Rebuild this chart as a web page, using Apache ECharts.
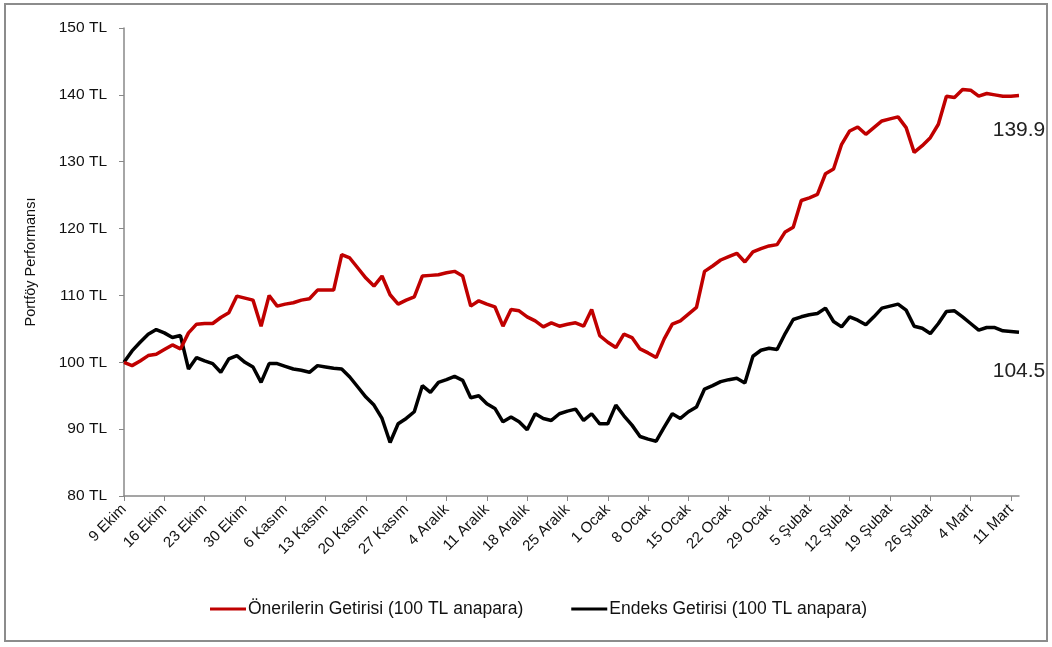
<!DOCTYPE html>
<html>
<head>
<meta charset="utf-8">
<script src="https://cdn.jsdelivr.net/npm/echarts@6/dist/echarts.min.js"></script>
<style>
html,body{margin:0;padding:0;background:#fff;}
#c{width:1052px;height:647px;}
</style>
</head>
<body>
<div id="c"></div>
<script>
// Month names (Turkish) used for daily category labels
const monthNames = ['Ocak','Şubat','Mart','Nisan','Mayıs','Haziran','Temmuz','Ağustos','Eylül','Ekim','Kasım','Aralık'];
const startDate = [2007, 9, 9]; // 9 Ekim (year, month index, day)
const dayCount = 112;

const seriesNames = ['Önerilerin Getirisi (100 TL anapara)', 'Endeks Getirisi (100 TL anapara)'];

const oneriler = [
100.0,99.5,100.2,101.0,101.2,101.9,102.6,102.0,104.4,105.7,
105.8,105.8,106.7,107.4,109.9,109.6,109.3,105.4,110.0,108.4,
108.7,108.9,109.3,109.5,110.8,110.8,110.8,116.1,115.6,114.1,
112.6,111.4,112.9,110.1,108.7,109.3,109.8,112.9,113.0,113.1,
113.4,113.6,112.9,108.4,109.2,108.7,108.3,105.4,107.9,107.7,
106.8,106.2,105.3,105.9,105.4,105.7,105.9,105.4,107.9,104.0,
103.0,102.2,104.2,103.7,102.0,101.4,100.7,103.5,105.7,106.2,
107.2,108.2,113.6,114.4,115.3,115.8,116.3,115.0,116.5,117.0,
117.4,117.6,119.5,120.2,124.2,124.6,125.1,128.2,128.9,132.6,
134.6,135.2,134.1,135.1,136.1,136.4,136.7,135.1,131.4,132.4,
133.6,135.6,139.8,139.6,140.8,140.7,139.8,140.2,140.0,139.8,
139.8,139.9];

const endeks = [
100.0,101.7,103.0,104.2,104.9,104.4,103.7,104.0,99.0,100.7,
100.2,99.8,98.5,100.5,101.0,100.0,99.3,97.0,99.8,99.8,
99.4,99.0,98.8,98.5,99.5,99.3,99.1,99.0,97.8,96.3,
94.8,93.6,91.6,88.0,90.8,91.6,92.6,96.5,95.5,97.0,
97.4,97.9,97.3,94.7,95.0,93.8,93.1,91.1,91.8,91.1,
89.9,92.3,91.6,91.3,92.3,92.7,93.0,91.3,92.3,90.8,
90.8,93.6,92.0,90.6,88.9,88.5,88.2,90.3,92.3,91.6,
92.6,93.3,96.0,96.5,97.1,97.4,97.6,96.9,100.9,101.8,
102.1,101.9,104.3,106.4,106.8,107.1,107.3,108.1,106.1,105.3,
106.8,106.3,105.6,106.8,108.1,108.4,108.7,107.8,105.4,105.1,
104.3,105.8,107.6,107.7,106.8,105.8,104.8,105.2,105.2,104.7,
104.6,104.5];

// Build trading-day categories (weekdays only)
const categories = [];
{
  const d = new Date(startDate[0], startDate[1], startDate[2]);
  while (categories.length < dayCount) {
    const wd = d.getDay();
    if (wd !== 0 && wd !== 6) categories.push(d.getDate() + ' ' + monthNames[d.getMonth()]);
    d.setDate(d.getDate() + 1);
  }
}

function endMark(arr, dist) {
  const last = arr.length - 1;
  return {
    symbol: 'circle', symbolSize: 0, silent: true, animation: false,
    label: {show: true, position: 'bottom', distance: dist,
      fontFamily: 'Liberation Sans', fontSize: 21, color: '#222',
      formatter: arr[last].toFixed(1)},
    data: [{coord: [last, arr[last]]}]
  };
}

const chart = echarts.init(document.getElementById('c'), null, {renderer: 'canvas'});
chart.setOption({
  animation: false,
  backgroundColor: '#fff',
  graphic: [{
    type: 'rect', shape: {x: 5, y: 4, width: 1042, height: 637},
    style: {fill: 'none', stroke: '#8c8c8c', lineWidth: 2}, z: -1
  }],
  grid: {left: 124, right: 33, top: 28, bottom: 151, containLabel: false},
  legend: {
    bottom: 24, left: 205, itemGap: 48, itemWidth: 36, itemHeight: 3, icon: 'rect',
    textStyle: {fontFamily: 'Liberation Sans', fontSize: 17.5, color: '#111', padding: [0,0,0,-3]},
    data: seriesNames
  },
  xAxis: {
    type: 'category', boundaryGap: false, data: categories,
    axisLine: {lineStyle: {color: '#888', width: 1.5}},
    axisTick: {show: true, interval: 4, length: 5, lineStyle: {color: '#888'}},
    axisLabel: {interval: 4, rotate: 45, margin: 11, fontFamily: 'Liberation Sans', fontSize: 15, color: '#111'},
    splitLine: {show: false}
  },
  yAxis: {
    type: 'value', min: 80, max: 150, interval: 10,
    name: 'Portföy Performansı', nameLocation: 'middle', nameGap: 86, nameRotate: 90,
    nameTextStyle: {fontFamily: 'Liberation Sans', fontSize: 14.5, color: '#111'},
    axisLine: {show: true, lineStyle: {color: '#888', width: 1.5}},
    axisTick: {show: true, length: 5, lineStyle: {color: '#888'}},
    axisLabel: {margin: 17, formatter: '{value} TL', fontFamily: 'Liberation Sans', fontSize: 15.5, color: '#111'},
    splitLine: {show: false}
  },
  series: [
    {name: seriesNames[0], type: 'line', data: oneriler, showSymbol: false, symbol: 'none',
     lineStyle: {color: '#C00000', width: 3.5}, itemStyle: {color: '#C00000'}, z: 3,
     markPoint: endMark(oneriler, 24)},
    {name: seriesNames[1], type: 'line', data: endeks, showSymbol: false, symbol: 'none',
     lineStyle: {color: '#000', width: 3.5}, itemStyle: {color: '#000'}, z: 2,
     markPoint: endMark(endeks, 29)}
  ]
});
</script>
</body>
</html>
